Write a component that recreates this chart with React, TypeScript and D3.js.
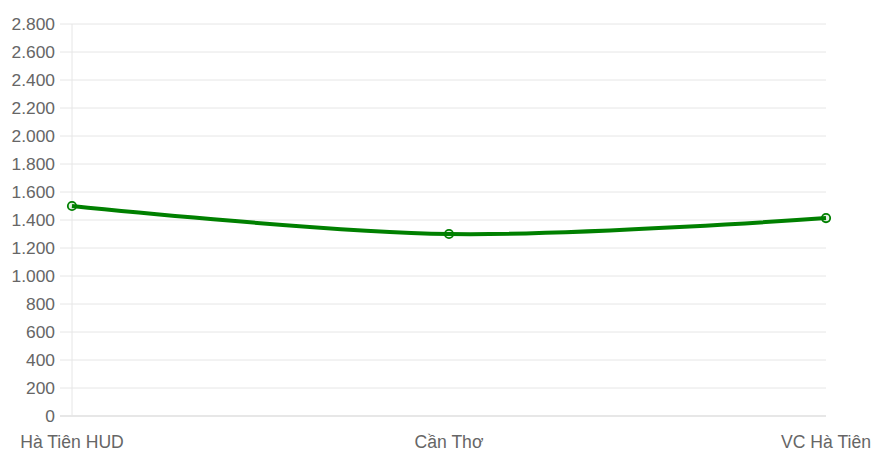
import React from "react";
import * as d3 from "d3";

const categories: string[] = ["Hà Tiên HUD", "Cần Thơ", "VC Hà Tiên"];
const values: number[] = [1500, 1300, 1414];
const yTicks: number[] = [0, 200, 400, 600, 800, 1000, 1200, 1400, 1600, 1800, 2000, 2200, 2400, 2600, 2800];

const W = 879;
const H = 459;
const margin = { left: 72, right: 53, top: 24, bottom: 43 };

const fmt = (v: number) => v.toLocaleString("de-DE");

export default function App() {
  const x = d3
    .scalePoint<string>()
    .domain(categories)
    .range([margin.left, W - margin.right]);
  const y = d3
    .scaleLinear()
    .domain([0, 2800])
    .range([H - margin.bottom, margin.top]);

  const pts: [number, number][] = categories.map((c, i) => [x(c)!, y(values[i])]);
  const line = d3.line().curve(d3.curveCatmullRom.alpha(0.5))(pts) || "";

  const font = "'Liberation Sans', Arial, Helvetica, sans-serif";

  return (
    <svg
      width={W}
      height={H}
      style={{ position: "absolute", left: 0, top: 0 }}
      fontFamily={font}
    >
      {yTicks.map((t) => (
        <g key={t}>
          <line
            x1={margin.left - 12}
            x2={W - margin.right}
            y1={y(t)}
            y2={y(t)}
            stroke={t === 0 ? "#cfcfcf" : "#e6e6e6"}
            strokeWidth={1}
          />
          <text
            x={55}
            y={y(t)}
            dy="0.35em"
            textAnchor="end"
            fontSize={17.4}
            fill="#666"
          >
            {fmt(t)}
          </text>
        </g>
      ))}
      <line
        x1={margin.left}
        x2={margin.left}
        y1={margin.top}
        y2={H - margin.bottom}
        stroke="#e6e6e6"
        strokeWidth={1}
      />
      {categories.map((c) => (
        <text
          key={c}
          x={x(c)}
          y={448}
          textAnchor="middle"
          fontSize={17.6}
          fill="#666"
        >
          {c}
        </text>
      ))}
      <path d={line} fill="none" stroke="#008000" strokeWidth={4} />
      {pts.map(([px, py], i) => (
        <circle
          key={i}
          cx={px}
          cy={py}
          r={4.2}
          fill="rgba(0,128,0,0.1)"
          stroke="#008000"
          strokeWidth={1.8}
        />
      ))}
    </svg>
  );
}
